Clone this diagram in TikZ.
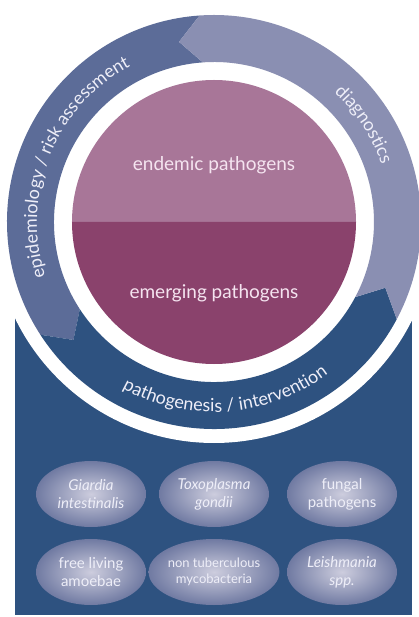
\documentclass[tikz,border=0pt]{standalone}
\usepackage{fontspec}
\setmainfont{Lato}
\usetikzlibrary{shapes.geometric,decorations.text}

\definecolor{ringdark}{RGB}{46,82,128}
\definecolor{ringmid}{RGB}{92,108,152}
\definecolor{ringlight}{RGB}{138,143,178}
\definecolor{pinktop}{RGB}{168,118,152}
\definecolor{pinkbot}{RGB}{138,66,108}
\definecolor{bubblein}{RGB}{205,205,222}
\definecolor{bubbleout}{RGB}{112,122,162}
\definecolor{textlight}{RGB}{238,238,248}
\definecolor{textpink}{RGB}{245,228,240}

\begin{document}
\begin{tikzpicture}[x=1pt, y=1pt,
    bubble/.style={ellipse, minimum width=110pt, minimum height=66pt, inner sep=0pt,
      shade, inner color=bubblein, outer color=bubbleout, text=textlight,
      align=center, font=\fontsize{15}{18}\selectfont},
    species/.style={bubble, font=\fontsize{15}{18}\selectfont\itshape},
    ringtext/.style={decorate, decoration={text along path, text align=center,
      text color=textlight, text={|\fontsize{18}{21}\selectfont|#1}}},
    disktext/.style={text=textpink, font=\fontsize{19}{23}\selectfont}]
    \useasboundingbox (-214,-395) rectangle (204,222);

    % background block and white band round the ring
    \fill[ringdark] (-199,0) rectangle (198,-393);
    \fill[white] (0,0) circle (221);

    % ring of three arrows
    \foreach \a/\b/\c in {94/213/ringmid, 213/332/ringdark, 332/454/ringlight} {
      \fill[\c] (\a:207) arc[start angle=\a, end angle=\b, radius=207]
        -- ({\b+7}:183.5) -- (\b:160) arc[start angle=\b, end angle=\a, radius=160]
        -- ({\a+7}:183.5) -- cycle;
    }

    \path[ringtext={epidemiology / risk assessment}] (206:177) arc[start angle=206, end angle=110, radius=177];
    \path[ringtext={diagnostics}] (55:177) arc[start angle=55, end angle=11, radius=177];
    \path[ringtext={pathogenesis / intervention}] (230:190) arc[start angle=230, end angle=318, radius=190];

    % centre disk
    \fill[pinktop] (142,0) arc[start angle=0, end angle=180, radius=142] -- cycle;
    \fill[pinkbot] (-142,0) arc[start angle=180, end angle=360, radius=142] -- cycle;
    \node[disktext] (endemic) at (0,57) {endemic pathogens};
    \node[disktext] (emerging) at (0,-71) {emerging pathogens};

    % pathogens
    \node[species] (giardia) at (-123,-272) {Giardia\\intestinalis};
    \node[species] (toxo) at (0,-272) {Toxoplasma\\gondii};
    \node[bubble] (fungal) at (128,-272) {fungal\\pathogens};
    \node[bubble] (amoebae) at (-123,-350) {free living\\amoebae};
    \node[bubble, font=\fontsize{13}{16}\selectfont] (ntm) at (0,-350) {non tuberculous\\mycobacteria};
    \node[species] (leish) at (128,-350) {Leishmania\\spp.};
\end{tikzpicture}
\end{document}
